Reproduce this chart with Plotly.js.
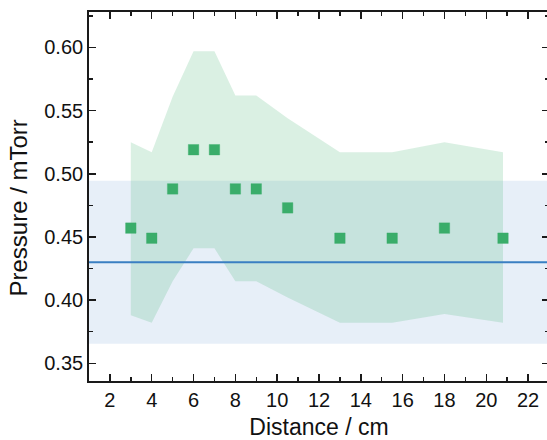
<!DOCTYPE html>
<html>
<head>
<meta charset="utf-8">
<script src="https://cdn.plot.ly/plotly-3.0.1.min.js"></script>
<style>
html, body { margin: 0; padding: 0; overflow: hidden; background: #fff; }
#chart { width: 550px; height: 440px; }
</style>
</head>
<body>
<div id="chart"></div>
<script>
// Distance / cm
const distance = [3, 4, 5, 6, 7, 8, 9, 10.5, 13, 15.5, 18, 20.8];
// Pressure / mTorr
const pressure = [0.457, 0.449, 0.488, 0.519, 0.519, 0.488, 0.488, 0.473, 0.449, 0.449, 0.457, 0.449];
// green uncertainty band
const bandUpper = [0.525, 0.517, 0.561, 0.597, 0.597, 0.562, 0.562, 0.544, 0.517, 0.517, 0.525, 0.517];
const bandLower = [0.388, 0.382, 0.415, 0.441, 0.441, 0.415, 0.415, 0.402, 0.382, 0.382, 0.389, 0.382];
// reference value and its range
const refValue = 0.43;
const refLow = 0.3655;
const refHigh = 0.4945;

const axisColor = '#1a1a1a';
const font = 'Liberation Sans, Arial, Helvetica, sans-serif';

const traces = [
  {
    x: distance, y: bandLower, type: 'scatter', mode: 'lines',
    line: {width: 0, color: 'rgba(0,0,0,0)'}, hoverinfo: 'skip', showlegend: false
  },
  {
    x: distance, y: bandUpper, type: 'scatter', mode: 'lines',
    fill: 'tonexty', fillcolor: 'rgba(60,174,106,0.19)',
    line: {width: 0, color: 'rgba(0,0,0,0)'}, hoverinfo: 'skip', showlegend: false
  },
  {
    x: distance, y: pressure, type: 'scatter', mode: 'markers',
    marker: {symbol: 'square', size: 10.5, color: '#3aad6a', line: {width: 0.6, color: 'rgba(58,173,106,0.6)'}},
    showlegend: false
  }
];

const layout = {
  width: 550, height: 440,
  margin: {l: 89, r: 1, t: 12, b: 59},
  paper_bgcolor: '#fff', plot_bgcolor: '#fff',
  font: {family: font, color: '#111', size: 20},
  showlegend: false,
  xaxis: {
    range: [1, 23], tick0: 0, dtick: 2,
    ticks: 'inside', ticklen: 7, tickwidth: 1.5, tickcolor: axisColor,
    minor: {dtick: 1, ticks: 'inside', ticklen: 4, tickwidth: 1.5, tickcolor: axisColor},
    showline: true, linewidth: 1.8, linecolor: axisColor, mirror: 'ticks',
    showgrid: false, zeroline: false,
    tickfont: {size: 20, family: font, color: '#111'},
    title: {text: 'Distance / cm', font: {size: 23, family: font, color: '#111'}, standoff: 10}
  },
  yaxis: {
    range: [0.336, 0.628], tick0: 0, dtick: 0.05, tickformat: '.2f',
    ticks: 'inside', ticklen: 7, tickwidth: 1.5, tickcolor: axisColor,
    minor: {dtick: 0.025, ticks: 'inside', ticklen: 4, tickwidth: 1.5, tickcolor: axisColor},
    showline: true, linewidth: 1.8, linecolor: axisColor, mirror: 'ticks',
    showgrid: false, zeroline: false,
    tickfont: {size: 20, family: font, color: '#111'},
    title: {text: ''}
  },
  annotations: [
    {text: 'Pressure / mTorr', textangle: -90, xref: 'paper', yref: 'paper',
     x: -0.1522, y: 0.47, xanchor: 'center', yanchor: 'middle', showarrow: false,
     font: {size: 24, family: font, color: '#111'}}
  ],
  shapes: [
    {type: 'rect', xref: 'paper', yref: 'y', x0: 0, x1: 1, y0: refLow, y1: refHigh,
     fillcolor: 'rgba(70,130,200,0.13)', line: {width: 0}, layer: 'below'},
    {type: 'line', xref: 'paper', yref: 'y', x0: 0, x1: 1, y0: refValue, y1: refValue,
     line: {color: '#3a7fc2', width: 2}, layer: 'above'}
  ]
};

Plotly.newPlot('chart', traces, layout, {displayModeBar: false, staticPlot: true});
</script>
</body>
</html>
